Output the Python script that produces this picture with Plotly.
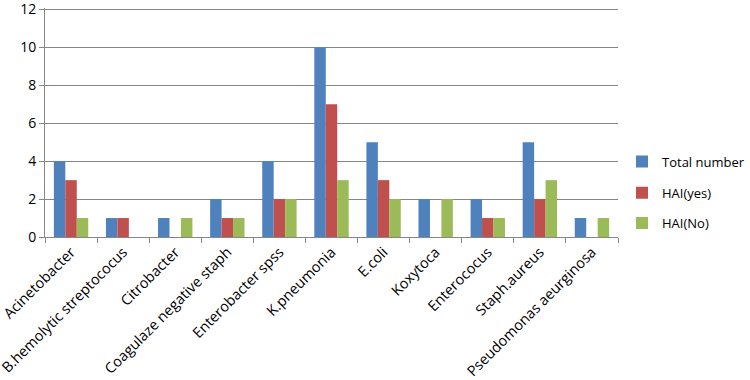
import plotly.graph_objects as go

categories = ["Acinetobacter", "B.hemolytic streptococus", "Citrobacter",
              "Coagulaze negative staph", "Enterobacter spss", "K.pneumonia",
              "E.coli", "Koxytoca", "Enterococus", "Staph.aureus",
              "Pseudomonas aeurginosa"]
total_number = [4, 1, 1, 2, 4, 10, 5, 2, 2, 5, 1]
hai_yes = [3, 1, 0, 1, 2, 7, 3, 0, 1, 2, 0]
hai_no = [1, 0, 1, 1, 2, 3, 2, 2, 1, 3, 1]
y_ticks = [0, 2, 4, 6, 8, 10, 12]

series = [("Total number", total_number, "#4F81BD", "legend", 0.329),
          ("HAI(yes)", hai_yes, "#C0504D", "legend2", 0.193),
          ("HAI(No)", hai_no, "#9BBB59", "legend3", 0.061)]

fig = go.Figure()
for name, vals, col, lg, _ in series:
    fig.add_trace(go.Bar(x=categories, y=vals, name=name, marker_color=col,
                         marker_line_width=0, legend=lg))

y_top = 12.08
legend_common = dict(xanchor="left", yanchor="middle", font=dict(size=13),
                     bgcolor="rgba(0,0,0,0)", itemwidth=30)
fig.update_layout(
    width=750, height=380,
    margin=dict(l=45, r=132, t=7.5, b=143, autoexpand=False),
    paper_bgcolor="white", plot_bgcolor="white",
    barmode="group", bargap=0.34, bargroupgap=0,
    font=dict(family="Open Sans, Liberation Sans, sans-serif", size=12, color="#000000"),
    showlegend=True,
    legend=dict(x=1.007, y=series[0][4], **legend_common),
    legend2=dict(x=1.007, y=series[1][4], **legend_common),
    legend3=dict(x=1.007, y=series[2][4], **legend_common),
)
fig.update_xaxes(
    type="category", tickangle=-45, tickson="boundaries", automargin=False,
    showline=True, linecolor="#868686", linewidth=1,
    ticks="outside", ticklen=5, tickcolor="#868686",
    showgrid=False, tickfont=dict(size=14.5),
)
fig.update_yaxes(
    range=[0, y_top], tickvals=y_ticks, automargin=False,
    ticklabeloverflow="allow",
    showline=True, linecolor="#868686", linewidth=1,
    ticks="outside", ticklen=5, tickcolor="#868686",
    showgrid=True, gridcolor="#868686", gridwidth=1,
    zeroline=False, tickfont=dict(size=14),
)

fig.write_html("out.html", config={"displayModeBar": False},
               post_script="document.body.style.margin='0';document.body.style.overflow='hidden';")
